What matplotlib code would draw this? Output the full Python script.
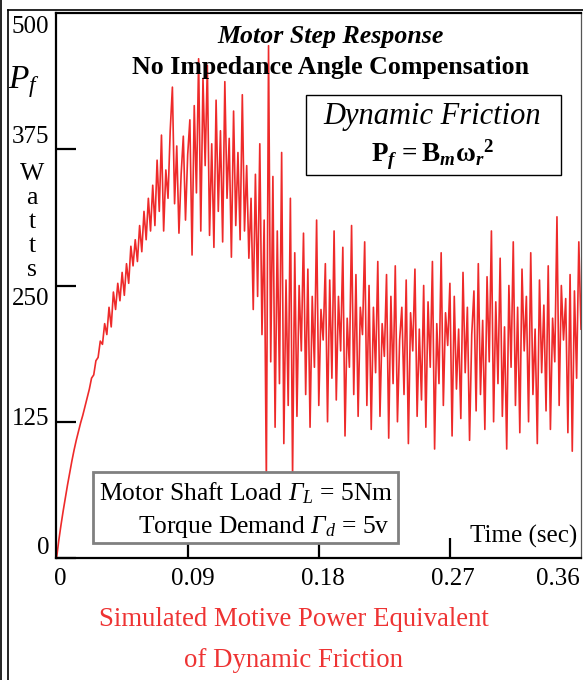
import numpy as np
import matplotlib
matplotlib.use("Agg")
import matplotlib.pyplot as plt
from matplotlib.lines import Line2D
from matplotlib.patches import Rectangle
from matplotlib.transforms import offset_copy

plt.rcParams["font.family"] = ["Liberation Serif", "DejaVu Serif"]
plt.rcParams["mathtext.fontset"] = "custom"
plt.rcParams["mathtext.rm"] = "Liberation Serif"
plt.rcParams["mathtext.it"] = "Liberation Serif:italic"
plt.rcParams["mathtext.bf"] = "Liberation Serif:bold"
plt.rcParams["mathtext.bfit"] = "Liberation Serif:bold:italic"
# mathtext forces capital greek upright in 'it', so borrow sf for a slanted Gamma
plt.rcParams["mathtext.sf"] = "Liberation Serif:italic"

# sample step of the simulation trace (sec)
dt = 0.0015

# motive power P_f (W) in pieces
power_rise = [0, 16, 30, 43, 55, 67, 78, 89, 99, 108, 116, 124, 131, 139, 147, 155,
              165, 168, 181, 184, 199]
power_climb = [196, 215, 205, 230, 212, 244, 228, 252, 236, 262, 241, 270, 252, 286,
               268, 292, 272, 305, 281, 318, 292, 330, 300]
power_peak = [342, 305, 365, 318, 388, 300, 356, 330, 392, 432, 325, 378, 298, 352,
              387, 310, 370, 402, 278, 415, 335, 458, 300, 440, 360, 452, 296, 380,
              285, 420, 318, 392, 290, 437, 330, 385, 276, 410, 305, 372, 292, 425,
              300, 360, 275, 330, 228, 352, 240, 380, 205, 310, 70, 470, 180]
power_drop = [350, 120, 300, 160, 372, 105, 255, 140, 330, 75, 280, 130, 250, 190,
              298, 150, 265, 120, 240, 175, 310, 140, 228, 200, 270, 125, 255, 165,
              300, 145, 240, 190, 285, 112, 220, 175, 305, 150, 260, 130, 230, 205]
power_settle = [290, 140, 250, 118, 230, 170, 272, 130, 215, 185, 260, 110, 240, 160,
                268, 125, 200, 230, 150, 255, 105, 225, 190, 265, 130, 210, 145, 250,
                120, 235, 175, 272, 100, 215, 160, 280, 140, 225, 195, 252, 112, 240,
                155, 210, 128, 262, 170, 230, 108, 205, 245, 135, 270, 150, 218, 118,
                258, 180, 300, 125, 235, 160, 275, 130, 212, 100, 250, 175, 290, 140,
                230, 115, 265, 190, 240, 125, 280, 150, 210, 105, 255, 170, 232, 135,
                268, 118, 220, 180, 313, 140, 250, 200, 238, 115, 260, 98, 245, 165,
                290, 210]

power = np.array(power_rise + power_climb + power_peak + power_drop + power_settle, float)
time = np.arange(len(power)) * dt

x_ticks = [0, 0.09, 0.18, 0.27, 0.36]
x_labels = ["0", "0.09", "0.18", "0.27", "0.36"]
y_ticks = [0, 125, 250, 375, 500]
y_labels = ["0", "125", "250", "375", "500"]
unit_letters = ["W", "a", "t", "t", "s"]

W, H = 583, 680
fig = plt.figure(figsize=(W / 100, H / 100), dpi=100)


def fx(x):
    return x / W


def fy(y):
    return 1 - y / H


ax = fig.add_axes([fx(56), fy(558), (581 - 56) / W, (558 - 13) / H])
ax.plot(time, power, color="#ee2a2a", lw=1.2, zorder=2)
ax.set_xlim(-0.0004, 0.36)
ax.set_ylim(0, 500)

for side in ["left", "bottom", "top"]:
    ax.spines[side].set_linewidth(1.6)
ax.spines["right"].set_linewidth(0.9)
ax.spines["right"].set_color("#555555")

ax.set_xticks(x_ticks[1:4])
ax.set_yticks(y_ticks[:4])
ax.tick_params(direction="in", length=14.4, width=1.6, labelleft=False, labelbottom=False)

# tick labels placed by hand, the original nudges them around
y_shift = [7, 2, -10, 9, -10]
for val, lab, dy in zip(y_ticks, y_labels, y_shift):
    tr = offset_copy(ax.get_yaxis_transform(), fig=fig, x=-5, y=dy, units="points")
    ax.text(0, val, lab, transform=tr, ha="right", va="center", fontsize=18)

x_shift = [3, 3.5, 3, 2.5, -17]
for val, lab, dx in zip(x_ticks, x_labels, x_shift):
    tr = offset_copy(ax.get_xaxis_transform(), fig=fig, x=dx, y=-7, units="points")
    ax.text(val, 0, lab, transform=tr, ha="center", va="top", fontsize=18)

# outer frame of the figure panel
fig.add_artist(Line2D([fx(1), fx(1)], [0, 1], color="black", lw=1.2))
fig.add_artist(Line2D([fx(8), fx(8)], [0, fy(10)], color="black", lw=1.2))
fig.add_artist(Line2D([fx(8), 1], [fy(10), fy(10)], color="black", lw=1.2))

# axis label
fig.text(fx(8), fy(88), r"$P_f$", fontsize=24, ha="left", va="baseline")
for i, ch in enumerate(unit_letters):
    fig.text(fx(32), fy(180 + 24 * i), ch, fontsize=18.5, ha="center", va="baseline")

fig.text(fx(331), fy(43), "Motor Step Response", fontsize=18.6, fontweight="bold",
         fontstyle="italic", ha="center", va="baseline")
fig.text(fx(331), fy(74), "No Impedance Angle Compensation", fontsize=18.6,
         fontweight="bold", ha="center", va="baseline")

fig.add_artist(Rectangle((fx(306), fy(175)), (561 - 306) / W, (175 - 95) / H,
                         transform=fig.transFigure, fill=False, ec="black", lw=1.0))
fig.text(fx(432), fy(124), "Dynamic Friction", fontsize=22, fontstyle="italic",
         ha="center", va="baseline")
fig.text(fx(433), fy(162),
         r"$\mathbf{P}_{\mathbfit{f}}\,\mathbf{=B}_{\mathbfit{m}}\mathbf{ω}_{\mathbfit{r}}{}^{\mathbf{2}}$",
         fontsize=19.5, ha="center", va="baseline")

fig.add_artist(Rectangle((fx(93), fy(543)), (398 - 93) / W, (543 - 472) / H,
                         transform=fig.transFigure, fc="white", ec="#808080", lw=2.0,
                         zorder=5))
fig.text(fx(393), fy(500), r"Motor Shaft Load $\mathsf{Γ}_L$ = 5Nm", fontsize=18.4,
         ha="right", va="baseline", zorder=6)
fig.text(fx(390), fy(533), r"Torque Demand $\mathsf{Γ}_d$ = 5v", fontsize=18.4,
         ha="right", va="baseline", zorder=6)

fig.text(fx(577), fy(543), "Time (sec)", fontsize=18, ha="right", va="baseline")

fig.text(fx(294), fy(626), "Simulated Motive Power Equivalent", fontsize=19.3,
         color="#ee3333", ha="center", va="baseline")
fig.text(fx(294), fy(667), "of Dynamic Friction", fontsize=19.3, color="#ee3333",
         ha="center", va="baseline")

fig.savefig("out.png", dpi=100)
